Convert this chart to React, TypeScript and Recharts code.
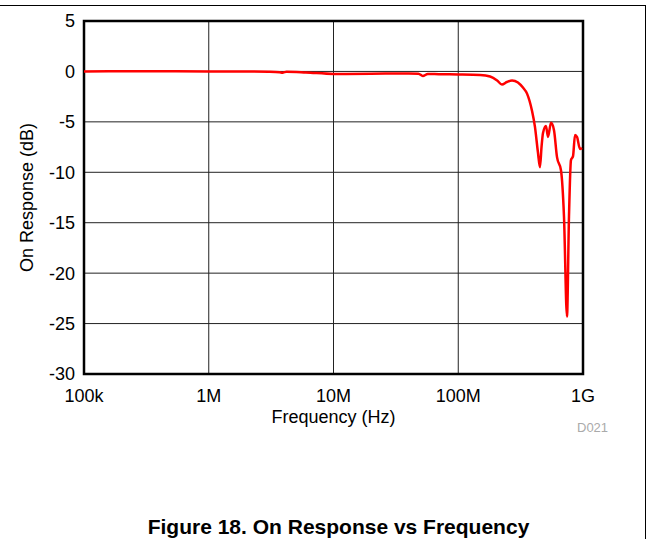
import React from 'react';
import { LineChart, Line, XAxis, YAxis, CartesianGrid, ReferenceArea } from 'recharts';

// frequency in Hz, response in dB
const freqs = [
  1e5, 3e5, 1e6, 2e6, 3e6, 3.7e6, 3.9e6, 4.2e6, 6e6, 1e7, 2e7, 4e7, 4.8e7, 5.2e7, 5.7e7, 7e7, 1e8,
  1.5e8, 1.8e8, 2.05e8, 2.24e8, 2.45e8, 2.7e8, 3.01e8, 3.3e8, 3.56e8, 3.9e8, 4.12e8, 4.35e8, 4.52e8,
  4.65e8, 4.78e8, 5.05e8, 5.24e8, 5.54e8, 5.85e8, 6.19e8, 6.66e8, 7.04e8, 7.44e8, 7.72e8, 8.01e8,
  8.32e8, 8.63e8, 8.96e8, 9.46e8, 9.82e8,
];
const response = [
  0.0, 0.02, 0.0, 0.0, -0.03, -0.08, -0.12, -0.03, -0.1, -0.25, -0.23, -0.2, -0.22, -0.45, -0.25, -0.28, -0.3,
  -0.35, -0.5, -0.9, -1.3, -1.05, -0.9, -1.1, -1.6, -2.2, -3.9, -5.5, -8.0, -9.5,
  -7.5, -6.1, -5.4, -6.5, -5.1, -5.8, -8.5, -9.8, -14.4, -24.3, -14.4, -8.8,
  -8.4, -6.3, -6.5, -7.7, -7.6,
];

const xTicks = [1e5, 1e6, 1e7, 1e8, 1e9];
const xTickLabels = ['100k', '1M', '10M', '100M', '1G'];
const yTicks = [-30, -25, -20, -15, -10, -5, 0, 5];

const data = freqs.map((f, i) => ({ f, db: response[i] }));

const font = 'Liberation Sans, Arial, sans-serif';
const fs = 18;

export default function App() {
  return (
    <div style={{ position: 'absolute', left: 0, top: 0, width: 649, height: 539, background: '#fff', fontFamily: font }}>
      <div style={{ position: 'absolute', left: 0, top: 5, width: 645, borderTop: '1.5px solid #000' }} />
      <div style={{ position: 'absolute', left: 645, top: 5, height: 534, borderLeft: '1.5px solid #000' }} />
      <LineChart width={649} height={539} data={data} margin={{ top: 21, right: 66, left: 27, bottom: 116 }}>
        <CartesianGrid stroke="#222" strokeWidth={1} horizontalValues={yTicks} verticalValues={xTicks} />
        <XAxis
          dataKey="f"
          type="number"
          scale="log"
          domain={[1e5, 1e9]}
          ticks={xTicks}
          allowDataOverflow
          tickFormatter={(v: number) => xTickLabels[xTicks.indexOf(v)] ?? ''}
          tickLine={false}
          axisLine={false}
          tickSize={0}
          tickMargin={15}
          height={49}
          tick={{ fontSize: fs, fill: '#000', fontFamily: font }}
          label={{ value: 'Frequency (Hz)', position: 'insideBottom', offset: 0, style: { fontSize: fs, fill: '#000', fontFamily: font } }}
        />
        <YAxis
          type="number"
          domain={[-30, 5]}
          ticks={yTicks}
          allowDataOverflow
          tickLine={false}
          axisLine={false}
          tickSize={0}
          tickMargin={9}
          width={57}
          tick={{ fontSize: fs, fill: '#000', fontFamily: font }}
          label={{ value: 'On Response (dB)', angle: -90, position: 'insideLeft', offset: 0, style: { fontSize: fs, fill: '#000', fontFamily: font, textAnchor: 'middle' } }}
        />
        <ReferenceArea x1={1e5} x2={1e9} y1={-30} y2={5} fill="none" stroke="#000" strokeWidth={2.5} ifOverflow="visible" />
        <Line type="monotone" dataKey="db" stroke="#ff0000" strokeWidth={2.5} dot={false} isAnimationActive={false} />
      </LineChart>
      <div style={{ position: 'absolute', left: 577, top: 420, fontSize: 13, color: '#aaa' }}>D021</div>
      <div style={{ position: 'absolute', left: 0, width: 649, top: 515, textAlign: 'center', fontSize: 21, fontWeight: 'bold', color: '#000', paddingLeft: 28, boxSizing: 'border-box' }}>
        Figure 18. On Response vs Frequency
      </div>
    </div>
  );
}
